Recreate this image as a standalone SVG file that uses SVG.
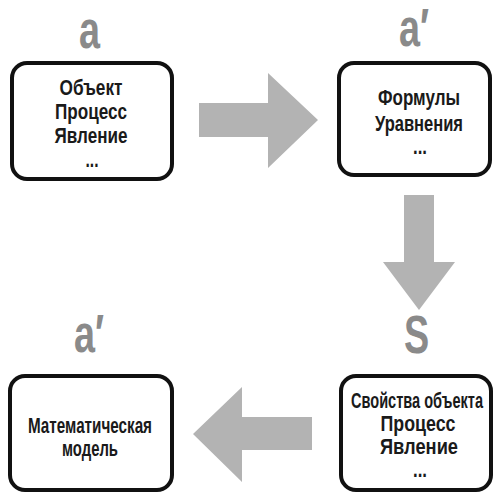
<svg xmlns="http://www.w3.org/2000/svg" width="493" height="493" viewBox="0 0 493 493">
<style>
.box{fill:#fff;stroke:#111;stroke-width:4}
.t{font-family:"Liberation Sans",Arial,sans-serif;font-weight:bold;font-size:22px;fill:#1a1a1a;text-anchor:middle}
.lbl{font-family:"Liberation Sans",Arial,sans-serif;font-weight:bold;font-size:54px;fill:#8a8a8a}
.arr{fill:#b3b3b3}
</style>
<rect width="493" height="493" fill="#fff"/>
<g id="connectors">
<path class="arr" d="M199,103 H268 V73 L318,120 L268,168 V137 H199 Z"/>
<path class="arr" d="M404,195 H434 V262 H455 L419,310 L383,262 H404 Z"/>
<path class="arr" d="M312,417 H242 V387 L193,434 L242,482 V450 H312 Z"/>
</g>
<g id="label-a"><text class="lbl" transform="translate(79,48) scale(0.7,1)">a</text></g>
<g id="label-a1"><text class="lbl" transform="translate(399,46) scale(0.7,1)">a′</text></g>
<g id="label-s"><text class="lbl" transform="translate(404,353) scale(0.7,1)">S</text></g>
<g id="label-a2"><text class="lbl" transform="translate(74,352) scale(0.7,1)">a′</text></g>
<g id="node-object">
<rect class="box" x="12" y="63" width="160" height="116" rx="15"/>
<text class="t" x="91" y="95" textLength="63" lengthAdjust="spacingAndGlyphs">Объект</text>
<text class="t" x="91" y="119" textLength="72" lengthAdjust="spacingAndGlyphs">Процесс</text>
<text class="t" x="91" y="143" textLength="73" lengthAdjust="spacingAndGlyphs">Явление</text>
<text class="t" x="92" y="167" textLength="13" lengthAdjust="spacingAndGlyphs">...</text>
</g>
<g id="node-formulas">
<rect class="box" x="339" y="63" width="151" height="112" rx="15"/>
<text class="t" x="419" y="105" textLength="82" lengthAdjust="spacingAndGlyphs">Формулы</text>
<text class="t" x="419" y="131" textLength="88" lengthAdjust="spacingAndGlyphs">Уравнения</text>
<text class="t" x="420" y="154" textLength="14" lengthAdjust="spacingAndGlyphs">...</text>
</g>
<g id="node-properties">
<rect class="box" x="341" y="376" width="150" height="114" rx="15"/>
<text class="t" x="417" y="408" textLength="132" lengthAdjust="spacingAndGlyphs">Свойства объекта</text>
<text class="t" x="418" y="431" textLength="75" lengthAdjust="spacingAndGlyphs">Процесс</text>
<text class="t" x="419" y="454" textLength="78" lengthAdjust="spacingAndGlyphs">Явление</text>
<text class="t" x="420" y="477" textLength="14" lengthAdjust="spacingAndGlyphs">...</text>
</g>
<g id="node-model">
<rect class="box" x="10" y="376" width="162" height="114" rx="15"/>
<text class="t" x="90" y="433" textLength="124" lengthAdjust="spacingAndGlyphs">Математическая</text>
<text class="t" x="90" y="456" textLength="56" lengthAdjust="spacingAndGlyphs">модель</text>
</g>
</svg>
